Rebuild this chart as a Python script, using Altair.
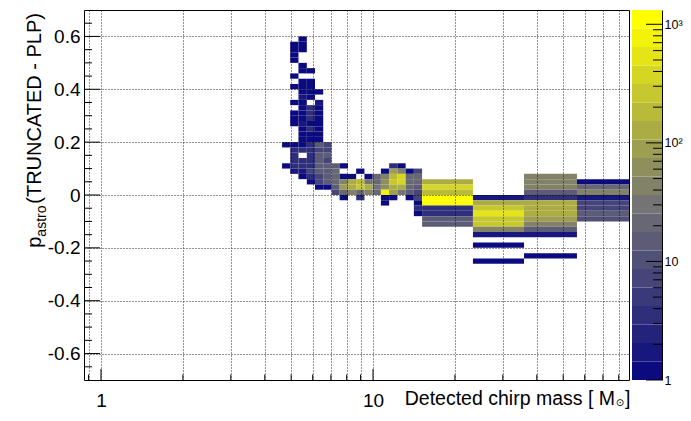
import altair as alt
import pandas as pd
import math

FONT = "Liberation Sans"
W, H = 545, 370

# ---------------- data ----------------
# x bin edges (detected chirp mass, log bins)
x_edges = [4.63, 4.96, 5.32, 5.71, 6.12, 6.56, 7.04, 7.54, 8.09, 8.67, 9.30,
           9.97, 10.69, 11.46, 12.29, 13.18, 14.13, 15.15, 23.3, 35.9, 56.2, 87.3]
y_width = 0.02  # y bin width; y bin j covers [j*0.02, (j+1)*0.02]

# per x-bin: (y bin index, counts)
col_00 = [(9, 1), (5, 1)]
col_01 = [(28, 1), (27, 1), (26, 1), (25, 1), (22, 1), (20, 1), (17, 1), (15, 1), (14, 1), (13, 1),
          (9, 1), (8, 4), (7, 4), (6, 4), (5, 4), (4, 2)]
col_02 = [(29, 1), (28, 1), (27, 1), (24, 1), (23, 1), (21, 1), (20, 1), (19, 1), (18, 2), (17, 1),
          (16, 1), (15, 1), (14, 1), (13, 2), (12, 1), (11, 1), (10, 1), (9, 1), (8, 4), (6, 4),
          (5, 4), (4, 2), (3, 1)]
col_03 = [(23, 1), (21, 1), (20, 1), (19, 1), (18, 1), (16, 4), (15, 4), (14, 4), (13, 1), (12, 4),
          (11, 1), (10, 1), (9, 4), (8, 4), (7, 4), (6, 4), (5, 4), (4, 8), (3, 4), (2, 1)]
col_04 = [(19, 1), (17, 2), (16, 1), (15, 1), (14, 1), (13, 1), (12, 1), (11, 1), (10, 1), (9, 14),
          (8, 8), (7, 14), (6, 14), (5, 14), (4, 14), (3, 8), (2, 8), (1, 1)]
col_05 = [(9, 8), (8, 8), (7, 14), (6, 8), (5, 14), (4, 14), (3, 14), (2, 14), (1, 1)]
col_06 = [(5, 14), (4, 22), (3, 22), (2, 22), (1, 14), (0, 8)]
col_07 = [(5, 1), (3, 1), (2, 45), (1, 90), (0, 22), (-1, 1)]
col_08 = [(3, 1), (2, 130), (1, 130), (0, 45)]
col_09 = [(4, 1), (2, 200), (1, 280), (0, 22), (-1, 4)]
col_10 = [(3, 1), (2, 30), (1, 130), (0, 45)]
col_11 = [(3, 22), (2, 22), (1, 30), (0, 22)]
col_12 = [(4, 1), (3, 45), (2, 60), (1, 60), (0, 800), (-1, 1), (-2, 1)]
col_13 = [(5, 3), (4, 90), (3, 200), (2, 280), (1, 130), (0, 90), (-1, 1)]
col_14 = [(5, 1), (4, 45), (3, 380), (2, 380), (1, 130), (0, 30)]
col_15 = [(4, 1), (3, 22), (2, 22), (1, 22), (0, 14), (-1, 1)]
col_16 = [(4, 8), (3, 22), (2, 22), (1, 14), (0, 8), (-1, 8), (-2, 1), (-3, 4), (-4, 1)]
col_17 = [(2, 130), (1, 380), (0, 160), (-1, 1200), (-2, 1200), (-3, 3), (-4, 3), (-5, 14), (-6, 14)]
col_18 = [(-1, 2), (-2, 130), (-3, 280), (-4, 500), (-5, 280), (-6, 220), (-7, 45), (-8, 2),
          (-10, 1), (-13, 1)]
col_19 = [(3, 45), (2, 45), (1, 45), (0, 14), (-1, 4), (-2, 110), (-3, 110), (-4, 110), (-5, 80),
          (-6, 45), (-7, 14), (-8, 2), (-12, 1)]
col_20 = [(2, 1), (1, 22), (0, 45), (-1, 2), (-2, 8), (-3, 8), (-4, 14), (-5, 10)]

columns = [col_00, col_01, col_02, col_03, col_04, col_05, col_06, col_07, col_08, col_09, col_10,
           col_11, col_12, col_13, col_14, col_15, col_16, col_17, col_18, col_19, col_20]

# axis ticks / labels
x_grid = [0.9, 1, 2, 3, 4, 5, 6, 7, 8, 9, 10, 20, 30, 40, 50, 60, 70, 80]
x_major = [1, 10]
x_minor = [0.9, 2, 3, 4, 5, 6, 7, 8, 9, 20, 30, 40, 50, 60, 70, 80]
y_major = [-0.6, -0.4, -0.2, 0.0, 0.2, 0.4, 0.6]
y_minor = [-0.65, -0.55, -0.5, -0.45, -0.35, -0.3, -0.25, -0.15, -0.1, -0.05,
           0.05, 0.1, 0.15, 0.25, 0.3, 0.35, 0.45, 0.5, 0.55, 0.65]
z_major = [1, 10, 100, 1000]
z_minor = [2, 3, 4, 5, 6, 7, 8, 9, 20, 30, 40, 50, 60, 70, 80, 90,
           200, 300, 400, 500, 600, 700, 800, 900]
Z_MIN, Z_MAX = 1.0, 1320.0
N_CONT = 20

# ---------------- palette (ROOT kBlueYellow, 20 contours) ----------------
stops = [(0.0, (0, 0, 128)), (0.5, (116, 116, 116)), (1.0, (255, 255, 0))]


def pal(t):
    for (t0, c0), (t1, c1) in zip(stops[:-1], stops[1:]):
        if t <= t1:
            f = (t - t0) / (t1 - t0)
            return "#%02x%02x%02x" % tuple(round(a + f * (b - a)) for a, b in zip(c0, c1))
    return "#ffff00"


colors = [pal(int((i + 0.99) * 255 / N_CONT) / 254) for i in range(N_CONT)]
L = math.log10(Z_MAX)
band_edges = [10 ** (L * k / N_CONT) for k in range(N_CONT + 1)]
thresholds = band_edges[1:-1]

rows = []
for i, col in enumerate(columns):
    for j, n in col:
        rows.append(dict(xlo=x_edges[i], xhi=x_edges[i + 1],
                         ylo=round(j * y_width, 4), yhi=round((j + 1) * y_width, 4), n=n))
df = pd.DataFrame(rows)

cb = pd.DataFrame({"lo": band_edges[:-1], "hi": band_edges[1:],
                   "mid": [(a * b) ** 0.5 for a, b in zip(band_edges[:-1], band_edges[1:])]})

# ---------------- scales ----------------
xs = alt.Scale(type="log", domain=[0.866, 87.3], nice=False)
ys = alt.Scale(domain=[-0.7, 0.7], nice=False, zero=False)
zs = alt.Scale(type="log", domain=[Z_MIN, Z_MAX], nice=False)
cs = alt.Scale(type="threshold", domain=thresholds, range=colors)

CB_X0, CB_X1 = W + 3, W + 33

xaxis = alt.Axis(values=x_grid, title=None, ticks=False, domain=False, grid=True,
                 gridDash=[1, 2], gridColor="#000000", gridOpacity=0.85, zindex=1,
                 labelExpr="datum.value == 1 || datum.value == 10 ? '' + datum.value : ''",
                 labelFont=FONT, labelFontSize=19, labelColor="black", labelPadding=11,
                 labelFlush=False, labelOverlap=False)
yaxis = alt.Axis(values=y_major, title=None, ticks=False, domain=False, grid=True,
                 gridDash=[1, 2], gridColor="#000000", gridOpacity=0.85, zindex=1,
                 labelExpr="datum.value == 0 ? '0' : (datum.value < 0 ? '-' + format(-datum.value, '.1f') : format(datum.value, '.1f'))",
                 labelFont=FONT, labelFontSize=19, labelColor="black", labelPadding=4,
                 labelOverlap=False)
zaxis = alt.Axis(values=z_major, title=None, ticks=False, domain=True, domainColor="black",
                 grid=False, orient="right", offset=CB_X1 - W,
                 labelExpr="datum.value == 1 ? '1' : datum.value == 10 ? '10' : datum.value == 100 ? '10²' : '10³'",
                 labelFont=FONT, labelFontSize=12.5, labelColor="black", labelPadding=2,
                 labelOverlap=False, labelFlush=False)

# ---------------- main panel ----------------
heat = alt.Chart(df).mark_rect(strokeWidth=0).encode(
    x=alt.X("xlo:Q", scale=xs, axis=xaxis), x2="xhi:Q",
    y=alt.Y("ylo:Q", scale=ys, axis=yaxis), y2="yhi:Q",
    color=alt.Color("n:Q", scale=cs, legend=None),
)


def xticks(vals, length):
    return alt.Chart(pd.DataFrame({"v": vals})).mark_rule(color="black", strokeWidth=1).encode(
        x=alt.X("v:Q", scale=xs, axis=xaxis), y=alt.value(H), y2=alt.value(H - length))


def yticks(vals, length):
    return alt.Chart(pd.DataFrame({"v": vals})).mark_rule(color="black", strokeWidth=1).encode(
        y=alt.Y("v:Q", scale=ys, axis=yaxis), x=alt.value(0), x2=alt.value(length))


def label(txt, x, y, size, align, angle=0, font=FONT):
    return alt.Chart(pd.DataFrame({"t": [txt]})).mark_text(
        font=font, fontSize=size, align=align, baseline="alphabetic", angle=angle, color="black"
    ).encode(text="t:N", x=alt.value(x), y=alt.value(y))


titles = [
    label("(TRUNCATED - PLP)", -43, 3, 20, "right", 270),
    label("astro", -38, 195.5, 14, "right", 270),
    label("p", -43, 226.5, 20, "right", 270),
    label("Detected chirp mass [ M", 531, 395, 19.5, "right"),
    label("\u2299", 536, 396, 10, "center", 0, "DejaVu Sans"),
    label("]", 541, 395, 19.5, "left"),
]

main = alt.layer(heat, xticks(x_major, 11), xticks(x_minor, 5.5),
                 yticks(y_major, 16), yticks(y_minor, 8), *titles)

# ---------------- colour bar ----------------
cbar = alt.Chart(cb).mark_rect(strokeWidth=0).encode(
    x=alt.value(CB_X0), x2=alt.value(CB_X1),
    y=alt.Y("lo:Q", scale=zs, axis=zaxis), y2="hi:Q",
    color=alt.Color("mid:Q", scale=cs, legend=None),
)


def zticks(vals, length):
    return alt.Chart(pd.DataFrame({"v": vals})).mark_rule(color="black", strokeWidth=1).encode(
        y=alt.Y("v:Q", scale=zs, axis=zaxis), x=alt.value(CB_X1), x2=alt.value(CB_X1 - length))


bar = alt.layer(cbar, zticks(z_major, 16), zticks(z_minor, 9))

chart = alt.layer(main, bar).resolve_scale(y="independent").properties(
    width=W, height=H,
    autosize=alt.AutoSizeParams(type="none"),
    padding={"left": 76, "top": 2, "right": 54, "bottom": 29},
).configure_view(stroke="black", strokeWidth=1)

chart.save("out.html", embed_options={"renderer": "svg", "actions": False})
